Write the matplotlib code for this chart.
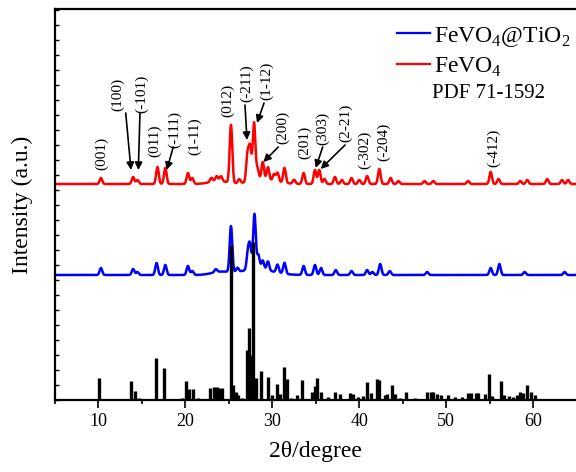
import numpy as np
import matplotlib
matplotlib.use("Agg")
from matplotlib import pyplot as plt
from matplotlib.ticker import MultipleLocator
from matplotlib.lines import Line2D

plt.rcParams['font.family'] = ['Liberation Serif', 'DejaVu Serif']
plt.rcParams['mathtext.fontset'] = 'custom'
plt.rcParams['mathtext.rm'] = 'Liberation Serif'

# FeVO4 peaks (2theta, height above its baseline)
red_base = 216
red_pos = [10.3, 14.0, 14.5, 16.8, 17.7, 20.3, 20.8, 23.0, 23.6, 24.1, 25.25, 26.2,
           27.15, 27.45, 27.9, 28.3, 28.9, 29.5, 30.2, 30.6, 31.4, 32.5, 33.6, 34.9,
           35.4, 36.0, 37.2, 38.0, 39.1, 40.0, 40.9, 42.3, 43.6, 44.5, 47.5, 48.5,
           52.5, 55.1, 56.0, 58.5, 59.3, 61.6, 63.3, 64.0]
red_h = [6, 7, 4, 17, 16, 11, 6, 4, 5, 5, 58, 4,
         27, 33, 58, 12, 18, 13, 7, 9, 15, 4, 11, 14,
         14, 5, 7, 4, 6, 4, 8, 15, 6, 3, 3, 3,
         3, 12, 5, 3, 4, 5, 4, 4]
red_hump_pos = [23.8, 29.0]
red_hump_h = [3, 4]
red_hump_w = [1.0, 1.5]

# FeVO4@TiO2 peaks
blue_base = 125
blue_pos = [10.3, 14.0, 14.5, 16.7, 17.7, 20.3, 20.8, 23.5, 25.25, 26.0, 27.2, 27.45,
            27.95, 28.4, 28.9, 29.5, 30.6, 31.4, 33.6, 34.9, 35.6, 37.3, 39.1, 40.9,
            41.5, 42.4, 43.5, 47.8, 55.1, 56.1, 59.0, 63.6]
blue_h = [7, 6, 3, 12, 10, 9, 4, 3, 46, 4, 17, 22,
          55, 14, 9, 9, 8, 11, 9, 10, 7, 5, 4, 5,
          3, 11, 4, 3, 7, 11, 3, 3]
blue_hump_pos = [24.0, 28.2]
blue_hump_h = [3, 6]
blue_hump_w = [1.0, 1.8]

# PDF 71-1592 reference lines
pdf_pos = [10.12, 11.35, 13.76, 14.18, 14.68, 16.63, 17.51, 19.58, 20.08, 20.42, 20.85,
           21.42, 22.84, 23.3, 23.6, 23.9, 24.18, 25.22, 25.45, 25.79, 26.1, 26.48,
           27.06, 27.29, 27.55, 27.82, 28.13, 28.67, 29.5, 29.97, 30.5, 30.9, 31.35,
           31.65, 32.2, 32.88, 33.45, 34.53, 34.9, 35.17, 35.56, 36.44, 37.2, 37.78,
           38.93, 39.31, 39.89, 40.46, 40.92, 41.31, 42.07, 42.3, 42.95, 43.15, 43.72,
           44.1, 44.68, 45.37, 46.4, 46.98, 47.74, 48.2, 48.5, 48.97, 49.35, 50.23,
           51.0, 51.77, 52.53, 52.8, 53.41, 53.68, 54.45, 54.91, 55.22, 56.29, 56.63,
           57.24, 57.7, 58.09, 58.47, 58.85, 59.24, 59.7, 60.2]
pdf_h = [22, 1, 19, 9, 2, 42, 32, 2, 19, 11, 11,
         2, 12, 13, 13, 12, 12, 155, 15, 8, 5, 2,
         50, 72, 45, 158, 22, 29, 23, 5, 16, 6, 33,
         21, 2, 5, 20, 8, 14, 22, 8, 3, 8, 6,
         7, 6, 3, 4, 18, 7, 21, 20, 5, 6, 15,
         6, 2, 8, 2, 1, 8, 8, 8, 6, 5, 5,
         3, 3, 7, 7, 7, 7, 6, 26, 4, 19, 5,
         4, 3, 5, 8, 7, 15, 8, 5]

# (label, text x, text y, arrow start, arrow tip)
labels = [
    ('(001)', 10.39, 247, None, None),
    ('(100)', 12.27, 306, (13.15, 287), (13.76, 230)),
    ('(-101)', 15.02, 306, (14.79, 287), (14.6, 230)),
    ('(011)', 16.52, 259, None, None),
    ('(-111)', 18.82, 271, (18.62, 253), (17.86, 230)),
    ('(1-11)', 21.11, 264, None, None),
    ('(012)', 24.9, 300, None, None),
    ('(-211)', 27.09, 317, (26.86, 295), (27.09, 260)),
    ('(1-12)', 29.39, 319, (29.05, 297), (28.24, 277)),
    ('(200)', 31.22, 273, (30.69, 253), (28.97, 238)),
    ('(201)', 33.74, 258, None, None),
    ('(303)', 35.75, 272, (35.79, 253), (34.99, 232)),
    ('(2-21)', 38.47, 277, (38.36, 255), (35.56, 231)),
    ('(-302)', 40.65, 250, None, None),
    ('(-204)', 42.76, 258, None, None),
    ('(-412)', 55.4, 252, None, None),
]


def pattern(x, base, pos, h, hpos, hh, hw, w=0.15):
    y = np.full_like(x, float(base))
    for p, a in zip(pos, h):
        y += a * np.exp(-0.5 * ((x - p) / w) ** 2)
    for p, a, s in zip(hpos, hh, hw):
        y += a * np.exp(-0.5 * ((x - p) / s) ** 2)
    return y


x = np.linspace(5, 65, 6001)
y_red = pattern(x, red_base, red_pos, red_h, red_hump_pos, red_hump_h, red_hump_w)
y_blue = pattern(x, blue_base, blue_pos, blue_h, blue_hump_pos, blue_hump_h, blue_hump_w)

fig = plt.figure(figsize=(5.76, 4.72), dpi=100)
ax = fig.add_axes([54.8 / 576, 72 / 472, 522 / 576, 391 / 472])

ax.plot(x, y_red, color='red', lw=1.8)
ax.plot(x, y_blue, color='blue', lw=1.8)
ax.vlines(pdf_pos, 0, pdf_h, color='black', lw=2.4)

for txt, tx, ty, start, tip in labels:
    ax.text(tx, ty, txt, rotation=90, ha='center', va='center', fontsize=11)
    if start is not None:
        ax.annotate('', xy=tip, xytext=start,
                    arrowprops=dict(arrowstyle='-|>', color='black', lw=1.2,
                                    mutation_scale=11, shrinkA=0, shrinkB=0))

ax.set_xlim(5, 65)
ax.set_ylim(0, 391)
ax.xaxis.set_major_locator(MultipleLocator(10))
ax.xaxis.set_minor_locator(MultipleLocator(5))
ax.yaxis.set_major_locator(MultipleLocator(15))
ax.set_yticklabels([])
ax.tick_params(axis='x', which='major', direction='out', length=6, width=1.2, labelsize=13, pad=3)
ax.tick_params(axis='x', which='minor', direction='out', length=3, width=1.2)
ax.tick_params(axis='y', which='major', direction='in', length=3, width=1)
ax.spines['right'].set_visible(False)
for s in ['left', 'bottom', 'top']:
    ax.spines[s].set_linewidth(1.6)

ax.set_xlabel('2θ/degree', fontsize=17, labelpad=8)
ax.set_ylabel('Intensity (a.u.)', fontsize=17, labelpad=12)

handles = [Line2D([], [], color='blue', lw=1.6), Line2D([], [], color='red', lw=1.6)]
ax.legend(handles, [r'FeVO$_\mathregular{4}$@TiO$_\mathregular{2}$', r'FeVO$_\mathregular{4}$'],
          loc='upper left', bbox_to_anchor=(0.655, 0.96), frameon=False, fontsize=17,
          handlelength=1.4, handletextpad=0.2, labelspacing=0.3, borderpad=0,
          borderaxespad=0)
ax.text(0.83, 0.785, 'PDF 71-1592', transform=ax.transAxes, ha='center', va='center',
        fontsize=15)

fig.savefig('out.png', dpi=100)
